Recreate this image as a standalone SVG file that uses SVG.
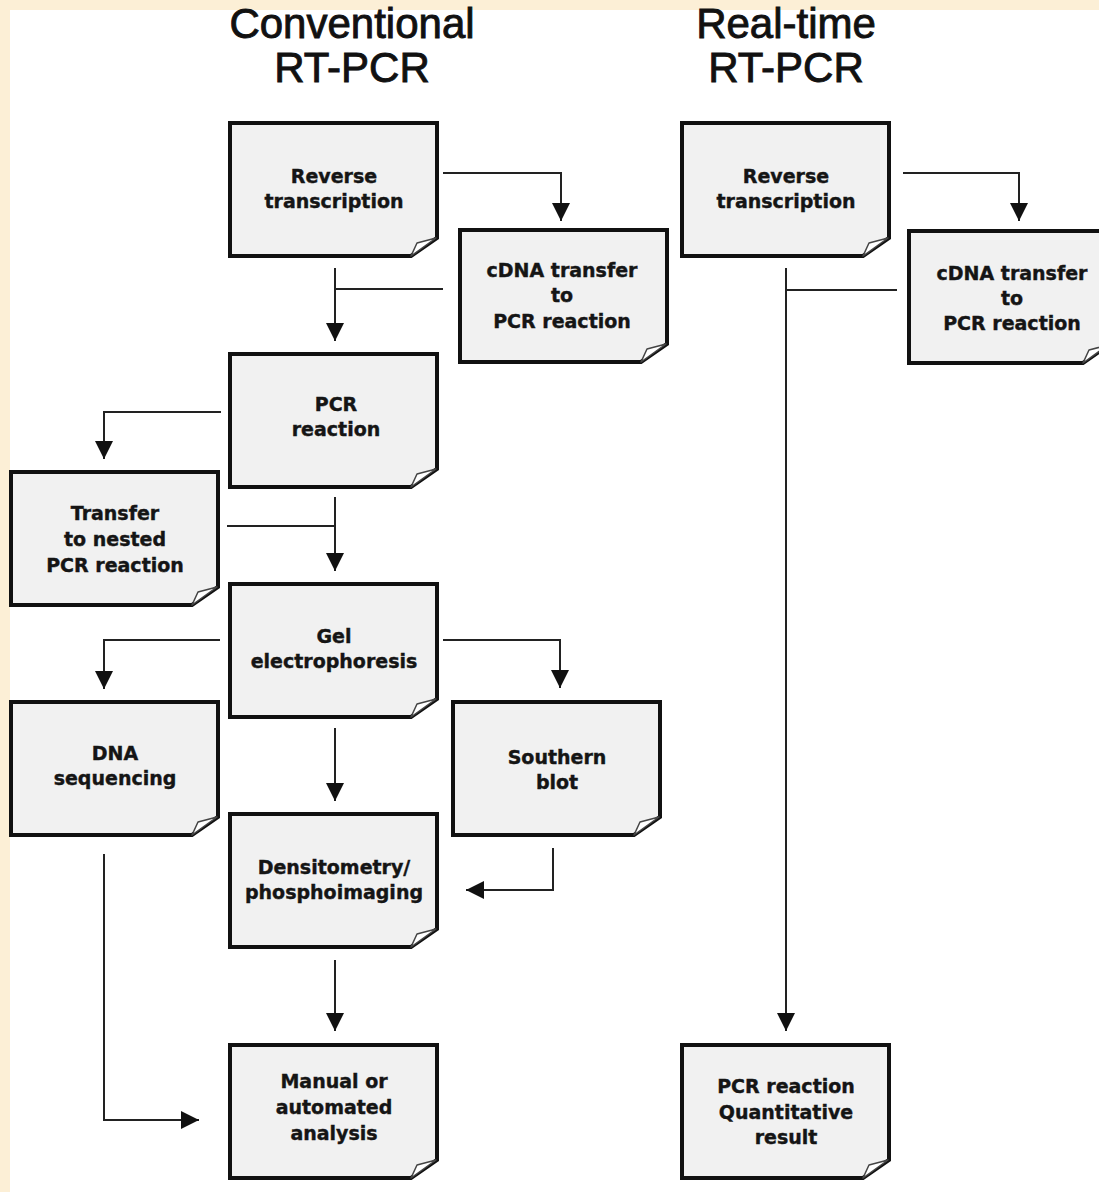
<svg xmlns="http://www.w3.org/2000/svg" width="1099" height="1192" viewBox="0 0 1099 1192">
<defs>
<style>
.box{fill:#f1f1f1;stroke:#111;stroke-width:4;stroke-linejoin:miter}
.curl{fill:#fff;stroke:#444;stroke-width:1.5;stroke-linejoin:round}
.lbl{font-family:"DejaVu Sans","Liberation Sans",sans-serif;font-weight:bold;font-size:19px;fill:#151515;stroke:#151515;stroke-width:0.4;text-anchor:middle}
.title{font-family:"Liberation Sans",Arial,sans-serif;font-size:42px;fill:#111;stroke:#111;stroke-width:0.9;text-anchor:middle}
.con{fill:none;stroke:#222;stroke-width:2}
</style>
<marker id="arr" viewBox="0 0 18 18" refX="18" refY="9" markerWidth="18" markerHeight="18" markerUnits="userSpaceOnUse" orient="auto">
<path d="M0,0 L18,9 L0,18 Z" fill="#111"/>
</marker>
</defs>
<rect x="0" y="0" width="1099" height="1192" fill="#fcefd6"/>
<rect x="10" y="10" width="1089" height="1182" fill="#fff"/>

<g id="titles">
<text class="title" x="352" y="38">Conventional</text>
<text class="title" x="352" y="82">RT-PCR</text>
<text class="title" x="786" y="38">Real-time</text>
<text class="title" x="786" y="82">RT-PCR</text>
</g>

<g id="connectors">
<path class="con" d="M443,173 H561 V221" marker-end="url(#arr)"/>
<path class="con" d="M443,289 H335"/>
<path class="con" d="M335,268 V341" marker-end="url(#arr)"/>
<path class="con" d="M903,173 H1019 V221" marker-end="url(#arr)"/>
<path class="con" d="M897,290 H786"/>
<path class="con" d="M786,268 V1031" marker-end="url(#arr)"/>
<path class="con" d="M221,412 H104 V459" marker-end="url(#arr)"/>
<path class="con" d="M227,526 H335"/>
<path class="con" d="M335,497 V571" marker-end="url(#arr)"/>
<path class="con" d="M220,640 H104 V689" marker-end="url(#arr)"/>
<path class="con" d="M443,640 H560 V688" marker-end="url(#arr)"/>
<path class="con" d="M335,728 V801" marker-end="url(#arr)"/>
<path class="con" d="M553,848 V890 H466" marker-end="url(#arr)"/>
<path class="con" d="M335,960 V1031" marker-end="url(#arr)"/>
<path class="con" d="M104,854 V1120 H199" marker-end="url(#arr)"/>
</g>

<g id="rt-conv" transform="translate(230,123)">
<path class="box" d="M0,0 H207 V115 L181,133 H0 Z"/>
<path class="curl" d="M181,133 L187,120 L206,115 Z"/>
<text class="lbl" x="104" y="60">Reverse</text>
<text class="lbl" x="104" y="85">transcription</text>
</g>

<g id="cdna-conv" transform="translate(460,230)">
<path class="box" d="M0,0 H207 V114 L181,132 H0 Z"/>
<path class="curl" d="M181,132 L187,119 L206,114 Z"/>
<text class="lbl" x="102" y="47">cDNA transfer</text>
<text class="lbl" x="102" y="72">to</text>
<text class="lbl" x="102" y="98">PCR reaction</text>
</g>

<g id="rt-real" transform="translate(682,123)">
<path class="box" d="M0,0 H207 V115 L181,133 H0 Z"/>
<path class="curl" d="M181,133 L187,120 L206,115 Z"/>
<text class="lbl" x="104" y="60">Reverse</text>
<text class="lbl" x="104" y="85">transcription</text>
</g>

<g id="cdna-real" transform="translate(909,231)">
<path class="box" d="M0,0 H200 V114 L174,132 H0 Z"/>
<path class="curl" d="M174,132 L180,119 L199,114 Z"/>
<text class="lbl" x="103" y="49">cDNA transfer</text>
<text class="lbl" x="103" y="74">to</text>
<text class="lbl" x="103" y="99">PCR reaction</text>
</g>

<g id="pcr" transform="translate(230,354)">
<path class="box" d="M0,0 H207 V115 L181,133 H0 Z"/>
<path class="curl" d="M181,133 L187,120 L206,115 Z"/>
<text class="lbl" x="106" y="57">PCR</text>
<text class="lbl" x="106" y="82">reaction</text>
</g>

<g id="nested" transform="translate(11,472)">
<path class="box" d="M0,0 H207 V115 L181,133 H0 Z"/>
<path class="curl" d="M181,133 L187,120 L206,115 Z"/>
<text class="lbl" x="104" y="48">Transfer</text>
<text class="lbl" x="104" y="74">to nested</text>
<text class="lbl" x="104" y="100">PCR reaction</text>
</g>

<g id="gel" transform="translate(230,584)">
<path class="box" d="M0,0 H207 V115 L181,133 H0 Z"/>
<path class="curl" d="M181,133 L187,120 L206,115 Z"/>
<text class="lbl" x="104" y="59">Gel</text>
<text class="lbl" x="104" y="84">electrophoresis</text>
</g>

<g id="dnaseq" transform="translate(11,702)">
<path class="box" d="M0,0 H207 V115 L181,133 H0 Z"/>
<path class="curl" d="M181,133 L187,120 L206,115 Z"/>
<text class="lbl" x="104" y="58">DNA</text>
<text class="lbl" x="104" y="83">sequencing</text>
</g>

<g id="southern" transform="translate(453,702)">
<path class="box" d="M0,0 H207 V115 L181,133 H0 Z"/>
<path class="curl" d="M181,133 L187,120 L206,115 Z"/>
<text class="lbl" x="104" y="62">Southern</text>
<text class="lbl" x="104" y="87">blot</text>
</g>

<g id="densito" transform="translate(230,814)">
<path class="box" d="M0,0 H207 V115 L181,133 H0 Z"/>
<path class="curl" d="M181,133 L187,120 L206,115 Z"/>
<text class="lbl" x="104" y="60">Densitometry/</text>
<text class="lbl" x="104" y="85">phosphoimaging</text>
</g>

<g id="manual" transform="translate(230,1045)">
<path class="box" d="M0,0 H207 V115 L181,133 H0 Z"/>
<path class="curl" d="M181,133 L187,120 L206,115 Z"/>
<text class="lbl" x="104" y="43">Manual or</text>
<text class="lbl" x="104" y="69">automated</text>
<text class="lbl" x="104" y="95">analysis</text>
</g>

<g id="quant" transform="translate(682,1045)">
<path class="box" d="M0,0 H207 V115 L181,133 H0 Z"/>
<path class="curl" d="M181,133 L187,120 L206,115 Z"/>
<text class="lbl" x="104" y="48">PCR reaction</text>
<text class="lbl" x="104" y="74">Quantitative</text>
<text class="lbl" x="104" y="99">result</text>
</g>
</svg>
